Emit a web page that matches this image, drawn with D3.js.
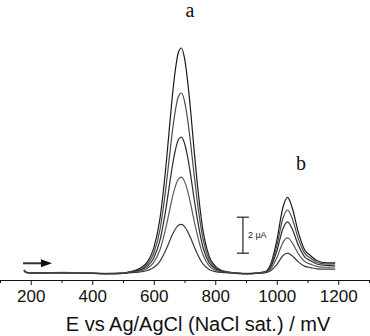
<!DOCTYPE html>
<html>
<head>
<meta charset="utf-8">
<script src="https://cdn.jsdelivr.net/npm/d3@7"></script>
<style>
  body { margin: 0; background: #fff; }
  svg { display: block; }
</style>
</head>
<body>
<div id="chart"></div>
<script>
// Potential (mV) sampled for every voltammogram
const potentials = [178, 185, 200, 250, 300, 350, 400, 450, 500,
  520, 540, 560, 580, 600, 620, 640,
  650, 660, 670, 680, 690, 700, 710, 720, 730, 740,
  760, 780, 800, 820, 840, 860, 880, 900, 920, 940, 960, 980, 1000, 1020,
  1035, 1050, 1070, 1090, 1110, 1130, 1160, 1190];

// Current (µA, relative to baseline), one array per concentration
const current1 = [.17, .04, 0, .01, .02, 0, -.02, -.04, -.02,
  .06, .15, .31, .63, 1.38, 3.0, 6.0,
  7.88, 9.75, 11.25, 12.25, 12.5, 11.94, 10.69, 9.0, 7.06, 5.25,
  2.38, .94, .38, .15, .06, .01, -.02, -.03, -.03, .01, .06, .48, 1.79, 3.64,
  4.2, 3.64, 2.27, 1.31, .96, .69, .56, .57];
const current2 = [.15, .03, .01, .02, .02, .01, -.01, -.03, -.02,
  .05, .12, .25, .5, 1.1, 2.4, 4.8,
  6.3, 7.8, 9.0, 9.8, 10.0, 9.55, 8.55, 7.2, 5.65, 4.2,
  1.9, .75, .3, .12, .05, .01, -.02, -.03, -.03, 0, .05, .4, 1.49, 3.03,
  3.5, 3.04, 1.91, 1.12, .83, .6, .5, .52];
const current3 = [.14, .03, 0, .01, .01, 0, -.02, -.03, -.01,
  .04, .09, .19, .38, .83, 1.81, 3.62,
  4.76, 5.89, 6.8, 7.4, 7.55, 7.21, 6.46, 5.44, 4.27, 3.17,
  1.43, .57, .23, .09, .04, 0, -.02, -.03, -.02, 0, .04, .32, 1.2, 2.46,
  2.84, 2.46, 1.55, .91, .68, .5, .42, .43];
const current4 = [.16, .05, .02, .02, .03, .01, -.01, -.02, -.01,
  .03, .06, .13, .27, .59, 1.28, 2.56,
  3.36, 4.16, 4.8, 5.22, 5.33, 5.09, 4.56, 3.84, 3.01, 2.24,
  1.01, .4, .16, .06, .03, 0, -.02, -.02, -.02, 0, .03, .22, .83, 1.69,
  1.95, 1.69, 1.08, .65, .49, .37, .32, .34];
const current5 = [.13, .02, 0, .01, .01, 0, -.02, -.03, -.02,
  .01, .03, .07, .14, .3, .65, 1.3,
  1.7, 2.11, 2.43, 2.65, 2.7, 2.58, 2.31, 1.94, 1.53, 1.13,
  .51, .2, .08, .03, .01, -.01, -.03, -.04, -.03, -.01, .01, .13, .47, .96,
  1.1, .96, .62, .38, .3, .23, .21, .22];

const majorTicks = [200, 400, 600, 800, 1000, 1200];
const minorTicks = [100, 300, 500, 700, 900, 1100, 1300];

// Annotations (data units)
const peakLabels = [["a", 718, 14.2], ["b", 1079, 5.75]];
const scaleBar = { E: 890, from: 1.1, to: 3.1, label: "2 μA" };
const scanArrow = { from: 175, to: 269, i: 0.54 };

const width = 370, height = 336;
const axisY = 280;

const svg = d3.select("#chart").append("svg")
  .attr("width", width)
  .attr("height", height);

const x = d3.scaleLinear().domain([100, 1300]).range([0, 369]);
const y = d3.scaleLinear().domain([0, 12.5]).range([273, 48]);

const series = [current1, current2, current3, current4, current5];
const colors = ["#1a1a1a", "#4a4a4a", "#2a2a2a", "#5a5a5a", "#3a3a3a"];

const line = d3.line()
  .x((d, i) => x(potentials[i]))
  .y(d => y(d))
  .curve(d3.curveMonotoneX);

svg.selectAll(".trace")
  .data(series)
  .enter()
  .append("path")
  .attr("class", "trace")
  .attr("d", line)
  .attr("fill", "none")
  .attr("stroke", (d, i) => colors[i])
  .attr("stroke-width", 1.2);

// Axes
const axis = svg.append("g")
  .attr("transform", `translate(0,${axisY})`)
  .call(d3.axisBottom(x).tickValues(majorTicks).tickFormat(d3.format("d"))
    .tickSize(5).tickSizeOuter(0).tickPadding(5));
axis.select(".domain").attr("stroke", "#111");
axis.selectAll(".tick line").attr("stroke", "#111");
axis.selectAll(".tick text")
  .attr("font-family", "'Liberation Sans', Arial, sans-serif")
  .attr("font-size", "17px")
  .attr("fill", "#111");

const minor = svg.append("g")
  .attr("transform", `translate(0,${axisY})`)
  .call(d3.axisBottom(x).tickValues(minorTicks).tickSize(3).tickSizeOuter(0).tickFormat(""));
minor.select(".domain").remove();
minor.selectAll(".tick line").attr("stroke", "#111");

svg.append("text")
  .attr("x", 198)
  .attr("y", 331)
  .attr("text-anchor", "middle")
  .attr("font-family", "'Liberation Sans', Arial, sans-serif")
  .attr("font-size", "20px")
  .attr("fill", "#111")
  .text("E vs Ag/AgCl (NaCl sat.) / mV");

// Peak labels
svg.selectAll(".peak-label")
  .data(peakLabels)
  .enter()
  .append("text")
  .attr("class", "peak-label")
  .attr("x", d => x(d[1]))
  .attr("y", d => y(d[2]))
  .attr("text-anchor", "middle")
  .attr("font-family", "'Liberation Serif', 'Times New Roman', serif")
  .attr("font-size", "20px")
  .attr("fill", "#111")
  .text(d => d[0]);

// Scale bar
const sb = svg.append("g").attr("stroke", "#222").attr("stroke-width", 1.2);
sb.append("line")
  .attr("x1", x(scaleBar.E)).attr("x2", x(scaleBar.E))
  .attr("y1", y(scaleBar.from)).attr("y2", y(scaleBar.to));
[scaleBar.from, scaleBar.to].forEach(v => {
  sb.append("line")
    .attr("x1", x(scaleBar.E) - 6).attr("x2", x(scaleBar.E) + 6)
    .attr("y1", y(v)).attr("y2", y(v));
});
svg.append("text")
  .attr("x", x(scaleBar.E) + 5)
  .attr("y", y((scaleBar.from + scaleBar.to) / 2) + 3)
  .attr("font-family", "'Liberation Sans', Arial, sans-serif")
  .attr("font-size", "9px")
  .attr("fill", "#222")
  .text(scaleBar.label);

// Scan direction arrow
const ay = y(scanArrow.i);
svg.append("line")
  .attr("x1", x(scanArrow.from)).attr("x2", x(scanArrow.to) - 8)
  .attr("y1", ay).attr("y2", ay)
  .attr("stroke", "#333")
  .attr("stroke-width", 2);
svg.append("path")
  .attr("d", `M${x(scanArrow.to)},${ay} L${x(scanArrow.to) - 11},${ay - 4} L${x(scanArrow.to) - 11},${ay + 4} Z`)
  .attr("fill", "#111");
</script>
</body>
</html>
